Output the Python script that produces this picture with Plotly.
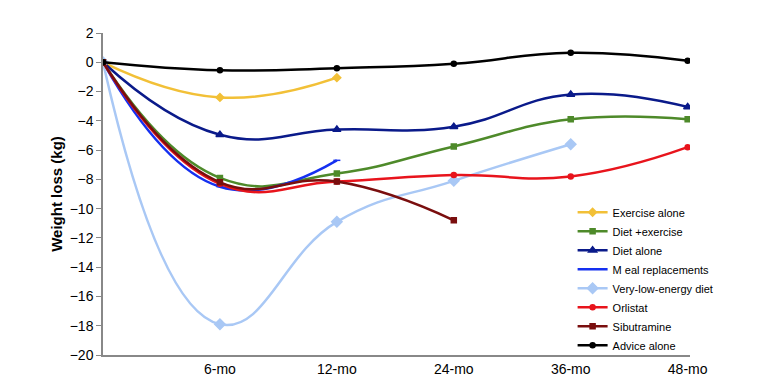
import plotly.graph_objects as go

x_positions = [0, 1, 2, 3, 4, 5]
tick_vals = [1, 2, 3, 4, 5]
tick_labels = ["6-mo", "12-mo", "24-mo", "36-mo", "48-mo"]

exercise_alone = [0, -2.4, -1.05]
diet_exercise = [0, -7.9, -7.6, -5.75, -3.9, -3.9]
diet_alone = [0, -4.95, -4.6, -4.4, -2.2, -3.05]
meal_replacements = [0, -8.5, -6.7]
very_low_energy = [0, -17.9, -10.9, -8.1, -5.6]
orlistat = [0, -8.3, -8.15, -7.7, -7.8, -5.8]
sibutramine = [0, -8.2, -8.15, -10.8]
advice_alone = [0, -0.55, -0.4, -0.1, 0.65, 0.1]

series = [
    ("Exercise alone", exercise_alone, "#F2C037", "diamond", 6),
    ("Diet +exercise", diet_exercise, "#4E8A2A", "square", 5),
    ("Diet alone", diet_alone, "#0A1A8A", "triangle-up", 7),
    ("M eal replacements", meal_replacements, "#1530F0", "line-ew", 5),
    ("Very-low-energy diet", very_low_energy, "#A9C8F5", "diamond", 8),
    ("Orlistat", orlistat, "#E8141C", "circle", 5),
    ("Sibutramine", sibutramine, "#7A0E0E", "square", 5),
    ("Advice alone", advice_alone, "#000000", "circle", 5),
]

fig = go.Figure()
for name, vals, color, sym, size in series:
    fig.add_trace(go.Scatter(
        x=x_positions[:len(vals)], y=vals, name=name, mode="lines+markers",
        line=dict(color=color, width=2.5, shape="spline", smoothing=1.3),
        marker=dict(color=color, symbol=sym, size=size,
                    line=dict(color=color, width=1.5)),
    ))

fig.update_layout(
    width=760, height=376,
    margin=dict(l=95, r=78, t=25, b=29),
    paper_bgcolor="white", plot_bgcolor="white",
    font=dict(family="Liberation Sans, Arial, sans-serif", color="black", size=14),
    legend=dict(x=0.8, xanchor="left", y=-0.015, yanchor="bottom",
                font=dict(size=11), itemwidth=30, tracegroupgap=0,
                bgcolor="rgba(0,0,0,0)"),
    showlegend=True,
)
fig.update_xaxes(range=[0, 5.02], tickvals=tick_vals, ticktext=tick_labels,
                 showgrid=False, zeroline=False, showline=True,
                 linecolor="#888888", linewidth=1.5, ticks="",
                 tickfont=dict(size=14), automargin=False)
fig.update_yaxes(range=[-20, 2], dtick=2, showgrid=False, zeroline=False,
                 showline=True, linecolor="#888888", linewidth=1.5,
                 ticks="outside", ticklen=5, tickcolor="#888888",
                 tickfont=dict(size=14), automargin=False,
                 title=dict(text="<b>Weight loss (kg)</b>", font=dict(size=15), standoff=3))

fig.write_html("out.html")
